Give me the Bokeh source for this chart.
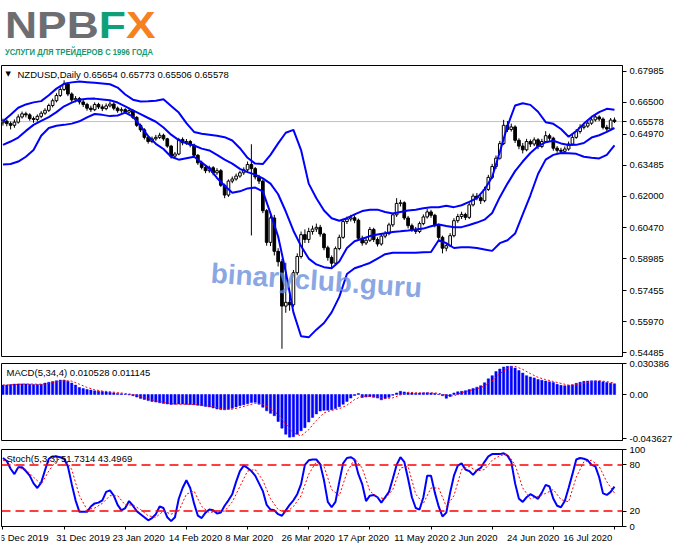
import numpy as np
from bokeh.plotting import figure
from bokeh.layouts import column
from bokeh.core.properties import value
from bokeh.models import Range1d, FixedTicker, PrintfTickFormatter, Span, Label, Div
from bokeh.embed import file_html
from bokeh.resources import INLINE

# ---- data (NZDUSD daily, one value per bar) ----
date_ticks = [0, 16, 32, 48, 64, 80, 96, 112, 128, 144, 160]
date_labels = ["6 Dec 2019", "31 Dec 2019", "23 Jan 2020", "14 Feb 2020", "8 Mar 2020",
               "26 Mar 2020", "17 Apr 2020", "11 May 2020", "2 Jun 2020", "24 Jun 2020",
               "16 Jul 2020"]

price_ticks = [0.67985, 0.66500, 0.64970, 0.63485, 0.62000, 0.60470,
               0.58985, 0.57455, 0.55970, 0.54485]
last_price = 0.65578

open_ = [
    0.6552, 0.6560, 0.6548, 0.6540, 0.6555, 0.6580, 0.6595, 0.6590, 0.6572, 0.6568,
    0.6583, 0.6598, 0.6612, 0.6635, 0.6658, 0.6683, 0.6712, 0.6738, 0.6690, 0.6662,
    0.6668, 0.6652, 0.6640, 0.6622, 0.6615, 0.6640, 0.6628, 0.6620, 0.6633, 0.6642,
    0.6622, 0.6610, 0.6615, 0.6603, 0.6611, 0.6578, 0.6540, 0.6518, 0.6482, 0.6462,
    0.6475, 0.6482, 0.6492, 0.6475, 0.6440, 0.6392, 0.6402, 0.6472, 0.6456, 0.6462,
    0.6445, 0.6396, 0.6360, 0.6338, 0.6322, 0.6336, 0.6312, 0.6322, 0.6252, 0.6205,
    0.6272, 0.6282, 0.6296, 0.6312, 0.6326, 0.6352, 0.6332, 0.6292, 0.6272, 0.6130,
    0.5978, 0.6095, 0.5935, 0.5885, 0.5672, 0.5690, 0.5678, 0.5832, 0.5910, 0.6015,
    0.5992, 0.6030, 0.6042, 0.6050, 0.6018, 0.5952, 0.5905, 0.5878, 0.5948, 0.6002,
    0.6078, 0.6090, 0.6096, 0.6084, 0.5998, 0.5975, 0.5988, 0.6040, 0.5992, 0.5970,
    0.6008, 0.6020, 0.6062, 0.6110, 0.6165, 0.6168, 0.6095, 0.6058, 0.6040, 0.6030,
    0.6068, 0.6100, 0.6124, 0.6108, 0.6060, 0.6002, 0.5950, 0.5962, 0.6010, 0.6082,
    0.6102, 0.6112, 0.6098, 0.6158, 0.6200, 0.6192, 0.6178, 0.6232, 0.6290, 0.6342,
    0.6382, 0.6452, 0.6540, 0.6520, 0.6532, 0.6468, 0.6440, 0.6422, 0.6462, 0.6450,
    0.6470, 0.6438, 0.6462, 0.6490, 0.6478, 0.6430, 0.6420, 0.6415, 0.6426, 0.6450,
    0.6482, 0.6510, 0.6530, 0.6536, 0.6550, 0.6566, 0.6580, 0.6570, 0.6530, 0.6522,
    0.65654]
high = [
    0.6572, 0.6568, 0.6558, 0.6568, 0.6592, 0.6606, 0.6605, 0.6598, 0.6582, 0.6592,
    0.6608, 0.6622, 0.6644, 0.6668, 0.6694, 0.6726, 0.6756, 0.6744, 0.6698, 0.6680,
    0.6676, 0.6662, 0.6648, 0.6634, 0.6650, 0.6648, 0.6640, 0.6645, 0.6656, 0.6650,
    0.6630, 0.6626, 0.6622, 0.6624, 0.6618, 0.6584, 0.6548, 0.6526, 0.6490, 0.6486,
    0.6494, 0.6504, 0.6500, 0.6480, 0.6446, 0.6412, 0.6480, 0.6482, 0.6474, 0.6470,
    0.6452, 0.6402, 0.6370, 0.6348, 0.6346, 0.6344, 0.6334, 0.6330, 0.6260, 0.6280,
    0.6294, 0.6308, 0.6322, 0.6338, 0.6366, 0.6449, 0.6340, 0.6302, 0.6280, 0.6138,
    0.6108, 0.6110, 0.5950, 0.5898, 0.5880, 0.5740, 0.5845, 0.5925, 0.6030, 0.6040,
    0.6048, 0.6058, 0.6068, 0.6062, 0.6024, 0.5962, 0.5915, 0.5958, 0.6015, 0.6090,
    0.6102, 0.6110, 0.6108, 0.6092, 0.6010, 0.6002, 0.6052, 0.6048, 0.6002, 0.6018,
    0.6032, 0.6072, 0.6120, 0.6190, 0.6182, 0.6175, 0.6105, 0.6068, 0.6052, 0.6078,
    0.6112, 0.6138, 0.6134, 0.6115, 0.6068, 0.6010, 0.5975, 0.6022, 0.6094, 0.6115,
    0.6125, 0.6120, 0.6170, 0.6212, 0.6215, 0.6205, 0.6245, 0.6302, 0.6355, 0.6395,
    0.6465, 0.6566, 0.6560, 0.6548, 0.6540, 0.6478, 0.6455, 0.6475, 0.6472, 0.6482,
    0.6478, 0.6475, 0.6512, 0.6500, 0.6485, 0.6440, 0.6432, 0.6438, 0.6462, 0.6495,
    0.6522, 0.6545, 0.6550, 0.6564, 0.6578, 0.6592, 0.6588, 0.6578, 0.6542, 0.6575,
    0.65773]
low = [
    0.6538, 0.6535, 0.6520, 0.6528, 0.6548, 0.6572, 0.6578, 0.6562, 0.6552, 0.6558,
    0.6574, 0.6590, 0.6604, 0.6626, 0.6650, 0.6676, 0.6705, 0.6680, 0.6652, 0.6650,
    0.6640, 0.6628, 0.6610, 0.6604, 0.6608, 0.6618, 0.6608, 0.6612, 0.6626, 0.6612,
    0.6600, 0.6600, 0.6594, 0.6596, 0.6570, 0.6532, 0.6508, 0.6472, 0.6452, 0.6454,
    0.6466, 0.6474, 0.6466, 0.6432, 0.6380, 0.6382, 0.6396, 0.6444, 0.6446, 0.6434,
    0.6388, 0.6350, 0.6328, 0.6310, 0.6312, 0.6300, 0.6302, 0.6244, 0.6190, 0.6196,
    0.6262, 0.6274, 0.6288, 0.6302, 0.6316, 0.6011, 0.6280, 0.6258, 0.6118, 0.5962,
    0.5960, 0.5915, 0.5862, 0.5467, 0.5640, 0.5650, 0.5668, 0.5820, 0.5900, 0.5975,
    0.5975, 0.6015, 0.6028, 0.6005, 0.5940, 0.5890, 0.5858, 0.5868, 0.5940, 0.5995,
    0.6066, 0.6078, 0.6070, 0.5985, 0.5962, 0.5965, 0.5980, 0.5980, 0.5958, 0.5962,
    0.5998, 0.6012, 0.6052, 0.6100, 0.6150, 0.6085, 0.6045, 0.6028, 0.6018, 0.6022,
    0.6060, 0.6092, 0.6096, 0.6050, 0.5990, 0.5925, 0.5935, 0.5955, 0.6002, 0.6072,
    0.6090, 0.6085, 0.6090, 0.6150, 0.6180, 0.6162, 0.6170, 0.6225, 0.6282, 0.6330,
    0.6375, 0.6445, 0.6508, 0.6510, 0.6455, 0.6425, 0.6405, 0.6415, 0.6436, 0.6440,
    0.6425, 0.6430, 0.6455, 0.6465, 0.6418, 0.6408, 0.6402, 0.6405, 0.6418, 0.6442,
    0.6475, 0.6500, 0.6520, 0.6528, 0.6542, 0.6558, 0.6560, 0.6520, 0.6510, 0.6515,
    0.65506]
close = [
    0.6560, 0.6548, 0.6540, 0.6555, 0.6580, 0.6595, 0.6590, 0.6572, 0.6568, 0.6583,
    0.6598, 0.6612, 0.6635, 0.6658, 0.6683, 0.6712, 0.6738, 0.6690, 0.6662, 0.6668,
    0.6652, 0.6640, 0.6622, 0.6615, 0.6640, 0.6628, 0.6620, 0.6633, 0.6642, 0.6622,
    0.6610, 0.6615, 0.6603, 0.6611, 0.6578, 0.6540, 0.6518, 0.6482, 0.6462, 0.6475,
    0.6482, 0.6492, 0.6475, 0.6440, 0.6392, 0.6402, 0.6472, 0.6456, 0.6462, 0.6445,
    0.6396, 0.6360, 0.6338, 0.6322, 0.6336, 0.6312, 0.6322, 0.6252, 0.6205, 0.6272,
    0.6282, 0.6296, 0.6312, 0.6326, 0.6352, 0.6332, 0.6292, 0.6272, 0.6130, 0.5978,
    0.6095, 0.5935, 0.5885, 0.5672, 0.5690, 0.5678, 0.5832, 0.5910, 0.6015, 0.5992,
    0.6030, 0.6042, 0.6050, 0.6018, 0.5952, 0.5905, 0.5878, 0.5948, 0.6002, 0.6078,
    0.6090, 0.6096, 0.6084, 0.5998, 0.5975, 0.5988, 0.6040, 0.5992, 0.5970, 0.6008,
    0.6020, 0.6062, 0.6110, 0.6165, 0.6168, 0.6095, 0.6058, 0.6040, 0.6030, 0.6068,
    0.6100, 0.6124, 0.6108, 0.6060, 0.6002, 0.5950, 0.5962, 0.6010, 0.6082, 0.6102,
    0.6112, 0.6098, 0.6158, 0.6200, 0.6192, 0.6178, 0.6232, 0.6290, 0.6342, 0.6382,
    0.6452, 0.6540, 0.6520, 0.6532, 0.6468, 0.6440, 0.6422, 0.6462, 0.6450, 0.6470,
    0.6438, 0.6462, 0.6490, 0.6478, 0.6430, 0.6420, 0.6415, 0.6426, 0.6450, 0.6482,
    0.6510, 0.6530, 0.6536, 0.6550, 0.6566, 0.6580, 0.6570, 0.6530, 0.6522, 0.6565,
    0.65578]

# Bollinger bands, read every second bar
band_bars = list(range(0, 161, 2))
bb_upper = [
    0.6559, 0.6591, 0.6624, 0.6640, 0.6650, 0.6656, 0.6684, 0.6716, 0.6739, 0.6746,
    0.6750, 0.6747, 0.6744, 0.6741, 0.6737, 0.6721, 0.6688, 0.6663, 0.6654, 0.6655,
    0.6658, 0.6665, 0.6633, 0.6601, 0.6550, 0.6508, 0.6499, 0.6495, 0.6490, 0.6483,
    0.6467, 0.6430, 0.6384, 0.6356, 0.6354, 0.6398, 0.6453, 0.6504, 0.6518, 0.6421,
    0.6260, 0.6190, 0.6131, 0.6094, 0.6082, 0.6094, 0.6112, 0.6128, 0.6135, 0.6135,
    0.6124, 0.6117, 0.6124, 0.6131, 0.6135, 0.6142, 0.6146, 0.6147, 0.6154, 0.6147,
    0.6156, 0.6172, 0.6190, 0.6232, 0.6292, 0.6412, 0.6536, 0.6635, 0.6646, 0.6638,
    0.6605, 0.6555, 0.6547, 0.6522, 0.6485, 0.6512, 0.6548, 0.6580, 0.6603, 0.6619,
    0.6615]
bb_middle = [
    0.6446, 0.6462, 0.6481, 0.6513, 0.6542, 0.6561, 0.6579, 0.6603, 0.6631, 0.6649,
    0.6663, 0.6667, 0.6668, 0.6664, 0.6660, 0.6649, 0.6631, 0.6612, 0.6594, 0.6575,
    0.6557, 0.6529, 0.6495, 0.6469, 0.6453, 0.6443, 0.6428, 0.6419, 0.6398, 0.6375,
    0.6356, 0.6331, 0.6315, 0.6303, 0.6285, 0.6260, 0.6209, 0.6126, 0.6034, 0.5960,
    0.5900, 0.5872, 0.5859, 0.5854, 0.5886, 0.5951, 0.5983, 0.5995, 0.6008, 0.6016,
    0.6022, 0.6028, 0.6031, 0.6035, 0.6040, 0.6044, 0.6055, 0.6064, 0.6057, 0.6051,
    0.6051, 0.6061, 0.6073, 0.6087, 0.6119, 0.6195, 0.6260, 0.6320, 0.6366, 0.6407,
    0.6439, 0.6459, 0.6466, 0.6453, 0.6445, 0.6446, 0.6455, 0.6481, 0.6492, 0.6508,
    0.6527]
bb_lower = [
    0.6352, 0.6354, 0.6366, 0.6389, 0.6421, 0.6490, 0.6527, 0.6538, 0.6542, 0.6548,
    0.6559, 0.6578, 0.6594, 0.6590, 0.6584, 0.6587, 0.6601, 0.6582, 0.6536, 0.6488,
    0.6451, 0.6426, 0.6389, 0.6375, 0.6382, 0.6389, 0.6361, 0.6333, 0.6287, 0.6250,
    0.6216, 0.6223, 0.6237, 0.6241, 0.6223, 0.6117, 0.6006, 0.5836, 0.5642, 0.5527,
    0.5522, 0.5559, 0.5591, 0.5642, 0.5716, 0.5826, 0.5854, 0.5866, 0.5879, 0.5900,
    0.5921, 0.5928, 0.5928, 0.5928, 0.5928, 0.5930, 0.5932, 0.5988, 0.5974, 0.5951,
    0.5955, 0.5955, 0.5951, 0.5944, 0.5937, 0.5974, 0.5988, 0.6020, 0.6112, 0.6204,
    0.6306, 0.6375, 0.6398, 0.6407, 0.6406, 0.6403, 0.6389, 0.6384, 0.6381, 0.6398,
    0.6443]

# MACD(5,34,4): histogram per bar, signal every second bar
macd_ticks = [0.030386, 0.0, -0.043627]
macd_hist = [
    0.0092, 0.0094, 0.0097, 0.0102, 0.0104, 0.0104, 0.0103, 0.0101, 0.0099, 0.0098,
    0.0101, 0.0112, 0.0120, 0.0127, 0.0135, 0.0141, 0.0142, 0.0131, 0.0112, 0.0092,
    0.0068, 0.0058, 0.0050, 0.0044, 0.0036, 0.0033, 0.0029, 0.0026, 0.0022, 0.0016,
    0.0011, 0.0007, 0.0003, -0.0004, -0.0012, -0.0025, -0.0038, -0.0049, -0.0060, -0.0068,
    -0.0074, -0.0081, -0.0087, -0.0093, -0.0098, -0.0096, -0.0093, -0.0094, -0.0097, -0.0098,
    -0.0101, -0.0105, -0.0110, -0.0117, -0.0123, -0.0132, -0.0142, -0.0148, -0.0150, -0.0145,
    -0.0135, -0.0122, -0.0110, -0.0100, -0.0090, -0.0078, -0.0077, -0.0095, -0.0125, -0.0160,
    -0.0185, -0.0208, -0.0265, -0.0330, -0.0390, -0.0418, -0.0415, -0.0390, -0.0355, -0.0325,
    -0.0270, -0.0225, -0.0190, -0.0162, -0.0155, -0.0154, -0.0150, -0.0138, -0.0120, -0.0095,
    -0.0068, -0.0035, -0.0010, 0.0009, -0.0030, -0.0025, -0.0021, -0.0027, -0.0035, -0.0052,
    -0.0040, -0.0028, -0.0008, 0.0015, 0.0031, 0.0025, 0.0018, 0.0015, 0.0012, 0.0014,
    0.0017, 0.0018, 0.0015, 0.0012, 0.0003, -0.0012, -0.0037, -0.0020, 0.0015, 0.0027,
    0.0031, 0.0038, 0.0049, 0.0060, 0.0072, 0.0086, 0.0115, 0.0154, 0.0185, 0.0225,
    0.0250, 0.0270, 0.0276, 0.0277, 0.0260, 0.0235, 0.0210, 0.0185, 0.0172, 0.0163,
    0.0148, 0.0140, 0.0132, 0.0125, 0.0117, 0.0100, 0.0090, 0.0086, 0.0090, 0.0095,
    0.0110, 0.0120, 0.0129, 0.0132, 0.0135, 0.0134, 0.0132, 0.0124, 0.0118, 0.0111,
    0.010528]
macd_signal = [
    0.0093, 0.0094, 0.0100, 0.0103, 0.0102, 0.0100, 0.0108, 0.0124, 0.0136, 0.0131,
    0.0101, 0.0069, 0.0047, 0.0034, 0.0027, 0.0019, 0.0010, 0.0001, -0.0020, -0.0043,
    -0.0062, -0.0076, -0.0090, -0.0096, -0.0095, -0.0098, -0.0105, -0.0114, -0.0130, -0.0144,
    -0.0144, -0.0128, -0.0106, -0.0086, -0.0093, -0.0140, -0.0195, -0.0285, -0.0377, -0.0405,
    -0.0345, -0.0255, -0.0180, -0.0155, -0.0140, -0.0105, -0.0050, -0.0015, -0.0020, -0.0027,
    -0.0039, -0.0033, -0.0005, 0.0022, 0.0017, 0.0014, 0.0016, 0.0012, -0.0008, -0.0014,
    0.0018, 0.0037, 0.0055, 0.0083, 0.0134, 0.0204, 0.0255, 0.0276, 0.0246, 0.0205,
    0.0168, 0.0146, 0.0128, 0.0109, 0.0092, 0.0095, 0.0111, 0.0127, 0.0134, 0.0127,
    0.011145]

# Stochastic(5,3,3): main per bar, signal every second bar
stoch_ticks = [0, 20, 80, 100]
stoch_main = [
    89, 85, 75, 68, 77, 77, 72, 66, 56, 50,
    57, 73, 88, 91, 91, 90, 88, 78, 55, 34,
    19, 19, 19, 26, 30, 31, 34, 45, 47, 40,
    28, 21, 24, 33, 27, 20, 16, 12, 8, 11,
    16, 26, 24, 12, 7, 12, 36, 50, 60, 50,
    30, 14, 11, 18, 22, 21, 17, 18, 27, 34,
    42, 58, 72, 79, 76, 72, 66, 56, 46, 28,
    22, 21, 16, 14, 21, 28, 34, 42, 55, 80,
    86, 87, 87, 81, 60, 32, 25, 32, 58, 82,
    89, 90, 87, 68, 55, 33, 40, 41, 38, 31,
    38, 45, 62, 80, 90, 84, 62, 38, 24, 22,
    38, 66, 66, 44, 26, 13, 18, 44, 66, 79,
    82, 74, 72, 67, 73, 76, 84, 91, 94, 94,
    94, 95, 92, 84, 56, 36, 32, 38, 42, 39,
    36, 44, 54, 52, 36, 27, 25, 33, 50, 68,
    87, 89, 88, 86, 80, 78, 64, 43, 41, 45,
    51.7314]
stoch_signal = [
    86, 84, 76, 74, 64, 55, 72, 86, 90, 74,
    40, 22, 24, 30, 40, 40, 28, 28, 22, 14,
    12, 20, 16, 20, 42, 46, 26, 18, 20, 20,
    32, 52, 72, 74, 60, 36, 22, 18, 26, 40,
    68, 84, 78, 48, 40, 70, 88, 76, 46, 38,
    36, 48, 76, 78, 42, 30, 50, 50, 26, 40,
    74, 78, 72, 74, 86, 92, 94, 80, 50, 36,
    39, 43, 48, 35, 32, 64, 84, 86, 78, 58,
    43.4969]

# ---- styling ----
AXIS_FONT = "Liberation Sans"
BLUE = "#0000ff"
RED = "#ff0000"
WIDTH = 675
RIGHT = 53                      # room for the price scale on the right
FRAME_W = WIDTH - 1 - RIGHT
x_range = Range1d(-0.38, 162.1)
bars = np.arange(len(close))


def panel(height, y_start, y_end, top, bottom, with_dates=False):
    p = figure(width=WIDTH, height=height, x_range=x_range,
               y_range=Range1d(y_start, y_end), y_axis_location="right",
               x_axis_location="below" if with_dates else None,
               toolbar_location=None, tools="", output_backend="svg",
               min_border_left=1, min_border_right=RIGHT,
               min_border_top=top, min_border_bottom=bottom,
               background_fill_color="white", border_fill_color="white",
               outline_line_color="black", outline_line_width=1)
    p.grid.visible = False
    ax = p.yaxis[0]
    ax.axis_line_color = "black"
    ax.major_tick_out = 4
    ax.major_tick_in = 0
    ax.minor_tick_out = 0
    ax.minor_tick_in = 0
    ax.major_label_standoff = 3
    ax.major_label_text_font = AXIS_FONT
    ax.major_label_text_font_size = "9.5px"
    ax.major_label_text_color = "black"
    return p


def panel_title(p, x, y, text, offset=5):
    p.add_layout(Label(x=x, y=y, x_offset=offset, y_offset=-3, text=text,
                       text_baseline="top", text_font=AXIS_FONT,
                       text_font_size="9.5px", text_color="black"))


# header with the logo
header = Div(width=WIDTH, height=53, text=(
    "<div style=\"font-family:'Liberation Sans',Arial,sans-serif;"
    "white-space:nowrap;line-height:normal\">"
    "<div style='font-size:37px;font-weight:bold;transform:scaleX(1.2);"
    "transform-origin:left'>"
    "<span style='color:#6d6e71'>NPB</span><span style='color:#0fa078'>F</span>"
    "<span style='color:#f5821f'>X</span></div>"
    "<div style='font-size:9px;font-weight:bold;color:#16996d;"
    "transform:scaleX(0.85);transform-origin:left'>"
    "УСЛУГИ ДЛЯ ТРЕЙДЕРОВ С 1996 ГОДА</div></div>"))

# price panel; the last price gets its own mark on the price scale
y0, y1 = 0.5430, 0.6827
p = panel(296, y0, y1, 2, 3)
p.yaxis[0].ticker = FixedTicker(ticks=sorted(price_ticks + [last_price]))
p.yaxis[0].formatter = PrintfTickFormatter(format="%.5f")

p.add_layout(Span(location=last_price, dimension="width", line_color="#c0c0c0",
                  line_width=1, level="underlay"))

o = np.array(open_)
c = np.array(close)
up = c >= o
p.segment(bars, high, bars, low, line_color="black", line_width=1)
p.vbar(x=bars[up], width=0.7, top=c[up], bottom=o[up],
       fill_color="white", line_color="black", line_width=1)
p.vbar(x=bars[~up], width=0.7, top=o[~up], bottom=c[~up],
       fill_color="black", line_color="black", line_width=1)

for band in (bb_upper, bb_middle, bb_lower):
    p.line(band_bars, band, line_color=BLUE, line_width=2)

p.add_layout(Label(x=82, y=0.5795, text="binaryclub.guru", angle=-0.07,
                   text_align="center", text_baseline="middle",
                   text_font=AXIS_FONT, text_font_style="bold",
                   text_font_size="28px", text_color="#6b8fdc", text_alpha=0.8))

p.add_layout(Label(x=x_range.start, y=y1, x_offset=4, y_offset=-4, text="\u25bc",
                   text_baseline="top", text_font="DejaVu Sans",
                   text_font_size="7px", text_color="black"))
panel_title(p, x_range.start, y1,
            "NZDUSD,Daily  0.65654 0.65773 0.65506 0.65578", offset=16)

# MACD panel
m = panel(85, -0.0451, 0.0304, 4, 4)
m.yaxis[0].ticker = FixedTicker(ticks=macd_ticks)
m.yaxis[0].major_label_overrides = {0.030386: "0.030386", 0.0: "0.00",
                                    -0.043627: "-0.043627"}
m.vbar(x=bars, top=macd_hist, bottom=0, width=0.6, fill_color=BLUE,
       line_color=BLUE, line_width=0.5)
m.line(band_bars, macd_signal, line_color=RED, line_width=1, line_dash="2 2")
panel_title(m, x_range.start, 0.0304, "MACD(5,34,4) 0.010528 0.011145")

# Stochastic panel
s = panel(86, 0, 100, 5, 4, with_dates=True)
s.yaxis[0].ticker = FixedTicker(ticks=stoch_ticks)
for level in (20, 80):
    s.add_layout(Span(location=level, dimension="width", line_color=RED,
                      line_width=1.5, line_dash="9 5"))
s.line(bars, stoch_main, line_color=BLUE, line_width=2)
s.line(band_bars, stoch_signal, line_color=RED, line_width=1, line_dash="2 2")
panel_title(s, x_range.start, 100, "Stoch(5,3,3) 51.7314 43.4969")

xa = s.xaxis[0]
xa.ticker = FixedTicker(ticks=date_ticks)
xa.major_label_overrides = {t: "" for t in date_ticks}
xa.major_label_text_font_size = "0px"
xa.major_label_standoff = 0
xa.major_tick_out = 3
xa.major_tick_in = 0
xa.minor_tick_out = 0
xa.minor_tick_in = 0
xa.axis_line_color = "black"

# date strip: same bar spacing as the panels, but spanning the scale column too,
# so that MT4-style labels can start at their tick and run past the last bar
px_per_bar = FRAME_W / (x_range.end - x_range.start)
d = figure(width=WIDTH, height=13, toolbar_location=None, tools="",
           output_backend="svg", x_axis_location=None, y_axis_location=None,
           x_range=Range1d(x_range.start, x_range.start + (WIDTH - 1) / px_per_bar),
           y_range=Range1d(0, 1), min_border_left=1, min_border_right=0,
           min_border_top=0, min_border_bottom=0, outline_line_color=None,
           background_fill_color="white", border_fill_color="white")
d.grid.visible = False
d.text(x=date_ticks, y=[0.5] * len(date_ticks), text=date_labels,
       x_offset=-3, text_align="left", text_baseline="middle",
       text_font=value(AXIS_FONT), text_font_size="9.5px", text_color="black")

layout = column(header, p, m, s, d, spacing=0)

open("out.html", "w").write(file_html(layout, INLINE))
